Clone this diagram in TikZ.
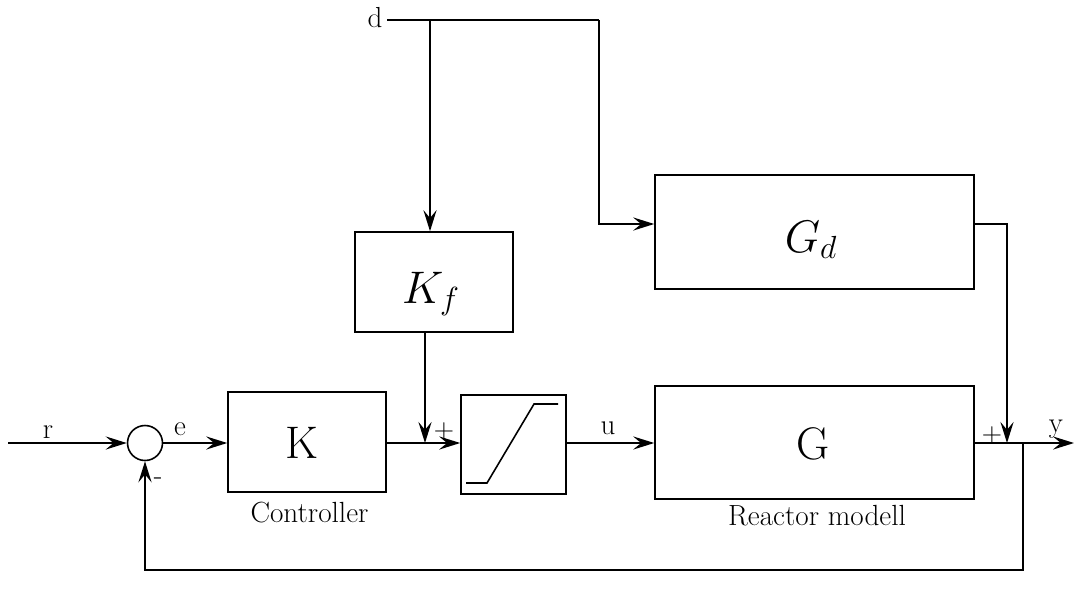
\RequirePackage{fix-cm}
\documentclass[tikz,border=0pt]{standalone}
\usepackage{fontspec}
\usetikzlibrary{arrows.meta}
\begin{document}
\begin{tikzpicture}[x=0.02cm,y=-0.02cm,
  line width=0.9pt,
  tip/.style={-{Stealth[length=12pt,width=7.5pt,inset=4.5pt]}},
  blk/.style={draw,rectangle,inner sep=0pt},
  lbl/.style={anchor=base,inner sep=0pt,font=\fontsize{16.5}{19}\selectfont},
  captxt/.style={anchor=base,inner sep=0pt,font=\fontsize{16.6}{19}\selectfont},
  big/.style={anchor=base,inner sep=0pt,font=\fontsize{26}{30}\selectfont},
  sgn/.style={inner sep=0pt,font=\fontsize{16}{19}\selectfont}]
\useasboundingbox (0,0) rectangle (1074,599);
% blocks
\node[blk,minimum width=3.16cm,minimum height=2cm] (K) at (307,442) {};
\node[blk,minimum width=2.1cm,minimum height=1.98cm] (sat) at (513.5,444.5) {};
\node[blk,minimum width=6.38cm,minimum height=2.26cm] (G) at (814.5,442.5) {};
\node[blk,minimum width=6.38cm,minimum height=2.28cm] (Gd) at (814.5,232) {};
\node[blk,minimum width=3.16cm,minimum height=2cm] (Kf) at (434,282) {};
\node[draw,circle,minimum size=0.7cm,inner sep=0pt] (sum) at (145,443) {};
% block texts
\node[big] (tK) at (302,458) {K};
\node[big] (tG) at (813,459) {G};
\node[big] (tGd) at (811,252) {$G_d$};
\node[big] (tKf) at (431,303) {$K_f$};
\node[captxt] (tC) at (309.5,522) {Controller};
\node[captxt] (tR) at (817,525) {Reactor modell};
% saturation curve
\draw (466,483) -- (487,483) -- (534,404) -- (558,404);
% coordinates
\coordinate (rin) at (8,443);
\coordinate (d0) at (387,20);
\coordinate (dj1) at (430,20);
\coordinate (dj2) at (599,20);
\coordinate (gdin) at (599,224);
\coordinate (kfo) at (425,332);
\coordinate (kfj) at (425,443);
\coordinate (gdo) at (974,224);
\coordinate (gdc) at (1007,224);
\coordinate (yj) at (1007,443);
\coordinate (fb) at (1023,443);
\coordinate (fb1) at (1023,570);
\coordinate (fb2) at (145,570);
\coordinate (yout) at (1074,443);
% connectors
\draw[tip] (rin) -- (sum.west);
\draw[tip] (sum.east) -- (K.west |- sum.east);
\draw[tip] (K.east |- sum.east) -- (sat.west |- sum.east);
\draw[tip] (kfo) -- (kfj);
\draw[tip] (sat.east |- sum.east) -- (G.west |- sum.east);
\draw[tip] (G.east |- sum.east) -- (yout);
\draw (d0) -- (dj2);
\draw[tip] (dj1) -- (Kf.north -| dj1);
\draw[tip] (dj2) -- (gdin) -- (Gd.west |- gdin);
\draw[tip] (gdo) -- (gdc) -- (yj);
\draw[tip] (fb) -- (fb1) -- (fb2) -- (sum.south);
% labels
\node[lbl] (lr) at (48,438) {r};
\node[lbl] (le) at (180,435) {e};
\node[lbl] (ld) at (375,27) {d};
\node[lbl] (lu) at (608,434) {u};
\node[lbl] (ly) at (1056,432) {y};
\node[sgn] (p1) at (444,431) {+};
\node[sgn] (p2) at (992,435) {+};
\node[sgn] (m1) at (158,481) {-};
\end{tikzpicture}
\end{document}
